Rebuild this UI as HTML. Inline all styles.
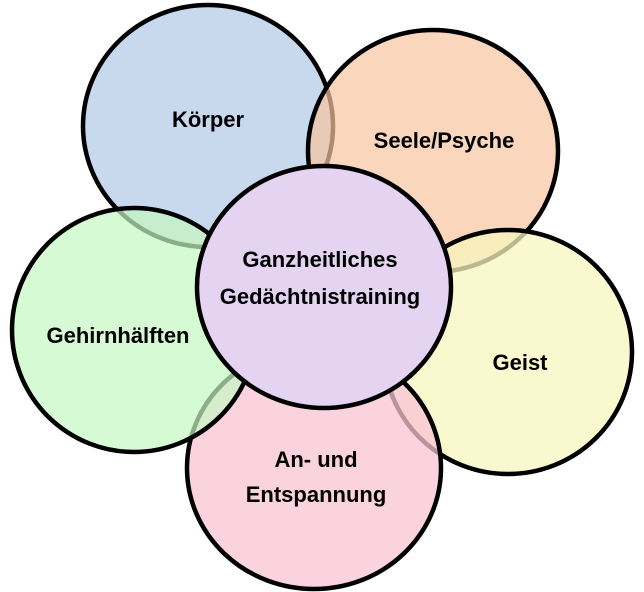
<!DOCTYPE html>
<html><head><style>html,body{margin:0;padding:0;background:#fff}</style></head><body>
<svg width="644" height="592" viewBox="0 0 644 592" xmlns="http://www.w3.org/2000/svg" style="display:block">
<g stroke="#000" stroke-width="4.5">
<ellipse cx="208" cy="126" rx="125" ry="121" fill="rgba(176,199,230,0.7)"/>
<ellipse cx="433" cy="151" rx="125" ry="121" fill="rgba(246,196,160,0.7)"/>
<ellipse cx="508" cy="352" rx="124" ry="122" fill="rgba(247,246,190,0.75)"/>
<ellipse cx="314" cy="468" rx="127" ry="121" fill="rgba(248,196,212,0.75)"/>
<ellipse cx="134" cy="330" rx="122" ry="122" fill="rgba(196,248,192,0.7)"/>
<ellipse cx="324" cy="287" rx="127" ry="121" fill="#e4d4f2"/>
</g>
<g font-family="Liberation Sans, sans-serif" font-weight="bold" font-size="22" text-anchor="middle" fill="#000">
<text x="208" y="127">Körper</text>
<text x="444" y="148">Seele/Psyche</text>
<text x="520" y="370">Geist</text>
<text x="316" y="467">An- und</text>
<text x="316" y="502">Entspannung</text>
<text x="118" y="343">Gehirnhälften</text>
<text x="320" y="267">Ganzheitliches</text>
<text x="320" y="304">Gedächtnistraining</text>
</g>
</svg>
</body></html>
